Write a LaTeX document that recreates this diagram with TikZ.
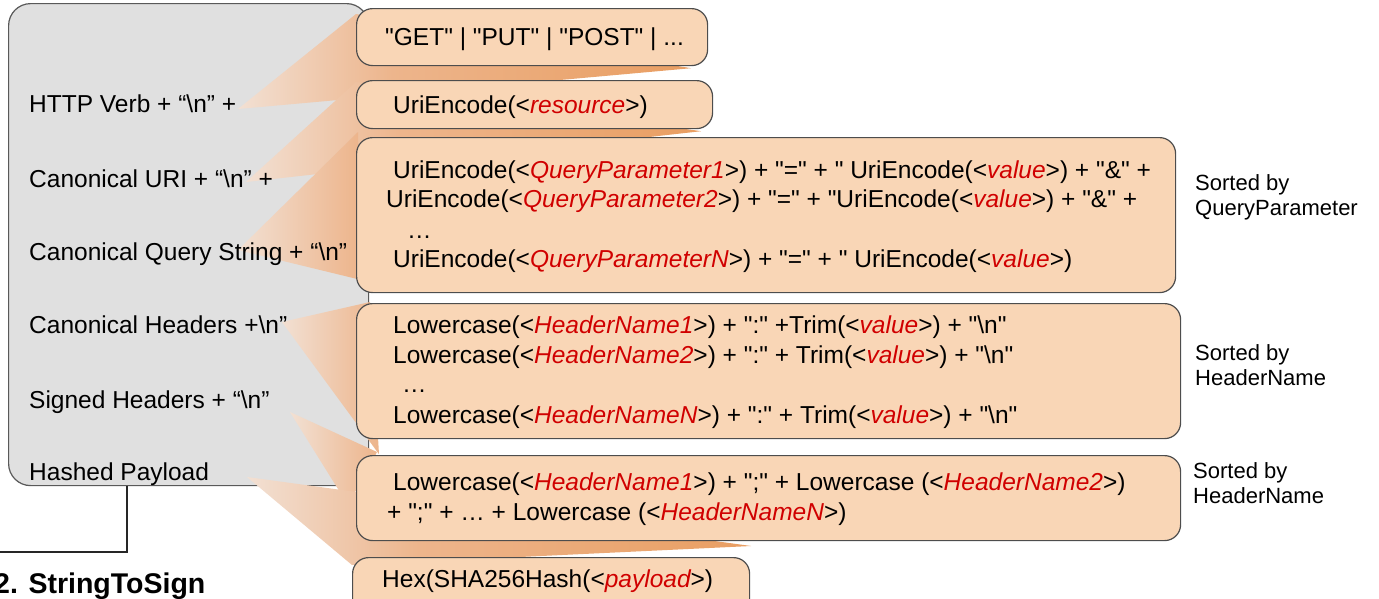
\documentclass[tikz,border=0pt]{standalone}
\usepackage{fontspec}
\setmainfont{Liberation Sans}[Ligatures=TeXOff]
\usepackage{tikz}
\definecolor{panelgray}{HTML}{E0E0E0}
\definecolor{panelline}{HTML}{595959}
\definecolor{peach}{HTML}{F9D6B6}
\definecolor{partline}{HTML}{4D4D4D}
\definecolor{argred}{HTML}{D00000}
\definecolor{calloutlight}{HTML}{F2E0D3}
\definecolor{calloutmid}{HTML}{EDB58C}
\definecolor{calloutdark}{HTML}{E99E62}
\pgfdeclarehorizontalshading{calloutlong}{100bp}{color(0bp)=(calloutlight); color(25bp)=(calloutlight);
 color(42bp)=(calloutmid); color(75bp)=(calloutdark); color(100bp)=(calloutdark)}
\pgfdeclarelayer{panel}
\pgfdeclarelayer{wedge}
\pgfsetlayers{panel,wedge,main}
\newcommand{\param}[1]{{\itshape\color{argred}#1}}
\newcommand{\escn}{\textbackslash n}

\begin{document}
\begin{tikzpicture}[x=1pt,y=-1pt,
 panel/.style={draw=panelline,line width=1.2pt,fill=panelgray,rounded corners=22pt,
 anchor=north west,inner sep=0pt},
 part/.style={draw=partline,line width=1.2pt,fill=peach,rounded corners=16pt,
 anchor=north west,inner sep=0pt},
 lbl/.style={anchor=base west,inner sep=0pt,font=\fontsize{24.5}{28}\selectfont},
 code/.style={anchor=base west,inner sep=0pt,font=\fontsize{24.5}{28}\selectfont},
 note/.style={anchor=base west,inner sep=0pt,align=left,font=\fontsize{22}{25}\selectfont},
 calloutlong/.style={shading=calloutlong},
 calloutshort/.style={left color=calloutlight,right color=calloutmid},
 link/.style={draw=black!85,line width=2.5pt}]
\useasboundingbox (0,0) rectangle (1379,598);
\begin{pgfonlayer}{panel}
\node[panel,minimum width=360pt,minimum height=482pt] (sts) at (8,3) {};
\end{pgfonlayer}
\coordinate (rail) at (0,552);
\draw[link] ([xshift=119pt]sts.south west) |- (rail);
\node[anchor=base west,inner sep=0pt,font=\bfseries\fontsize{28.5}{32}\selectfont] (title) at (-6,593) {2. StringToSign};

% what goes into the string
\node[lbl] (verb) at (29,112) {HTTP Verb + “\escn” +};
\node[lbl] (uri) at (29,187) {Canonical URI + “\escn” +};
\node[lbl] (query) at (29,260) {Canonical Query String + “\escn”};
\node[lbl] (headers) at (29,333) {Canonical Headers +\escn”};
\node[lbl] (signed) at (29,408) {Signed Headers + “\escn”};
\node[lbl] (payload) at (29,480) {Hashed Payload};
\coordinate (verbtip) at (238,109);
\coordinate (uritip) at (246,182);
\coordinate (querytip) at (238,250);
\coordinate (headertip) at (282,322);
\coordinate (signedtip) at (290,412);
\coordinate (payloadtip) at (247,477);

% parts
\node[part,minimum width=351pt,minimum height=57pt] (verbbox) at (356,8) {};
\node[part,minimum width=356pt,minimum height=48pt] (uribox) at (356,80) {};
\node[part,minimum width=819pt,minimum height=155pt] (querybox) at (356,137) {};
\node[part,minimum width=824pt,minimum height=135pt] (headerbox) at (356,303) {};
\node[part,minimum width=824pt,minimum height=85pt] (signedbox) at (356,455) {};
\node[part,minimum width=397pt,minimum height=60pt] (hexbox) at (352,557) {};

\node[code] (verbtxt) at (385,45) {"GET" | "PUT" | "POST" | ...};
\node[code] (uritxt) at (393,113) {UriEncode(<\param{resource}>)};
\node[code] (qone) at (393,178) {UriEncode(<\param{QueryParameter1}>) + "=" + " UriEncode(<\param{value}>) + "\&" +};
\node[code] (qtwo) at (386,207) {UriEncode(<\param{QueryParameter2}>) + "=" + "UriEncode(<\param{value}>) + "\&" +};
\node[code] (qdots) at (407,238) {\ldots};
\node[code] (qn) at (393,267) {UriEncode(<\param{QueryParameterN}>) + "=" + " UriEncode(<\param{value}>)};
\node[code] (hone) at (393,333) {Lowercase(<\param{HeaderName1}>) + ":" +Trim(<\param{value}>) + "\escn"};
\node[code] (htwo) at (393,363) {Lowercase(<\param{HeaderName2}>) + ":" + Trim(<\param{value}>) + "\escn"};
\node[code] (hdots) at (402,392) {\ldots};
\node[code] (hn) at (393,423) {Lowercase(<\param{HeaderNameN}>) + ":" + Trim(<\param{value}>) + "\escn"};
\node[code] (sone) at (393,490) {Lowercase(<\param{HeaderName1}>) + ";" + Lowercase (<\param{HeaderName2}>)};
\node[code] (stwo) at (387,520) {+ ";" + \ldots{} + Lowercase (<\param{HeaderNameN}>)};
\node[code] (hextxt) at (382,587) {Hex(SHA256Hash(<\param{payload}>)};

\node[note] (querynote) at (1195,215) {Sorted by\\QueryParameter};
\node[note] (headernote) at (1195,385) {Sorted by\\HeaderName};
\node[note] (signednote) at (1193,503) {Sorted by\\HeaderName};

% callouts from the labels to the parts
\begin{pgfonlayer}{wedge}
\shade[calloutlong] (verbtip) -- ([yshift=-6pt]verbbox.north west) -- ([xshift=-17pt,yshift=-2pt]verbbox.south east) -- cycle;
\shade[calloutlong] (uritip) -- ([yshift=-2pt]uribox.north west) -- ([xshift=-12pt,yshift=-2pt]uribox.south east) -- cycle;
\shade[calloutshort] (querytip) -- ([xshift=2pt,yshift=5pt]querybox.north west) -- ([xshift=2pt,yshift=14pt]querybox.south west) -- cycle;
\shade[calloutshort] (headertip) -- ([xshift=14pt,yshift=1pt]headerbox.north west) -- ([xshift=23pt,yshift=-15pt]headerbox.south west) -- cycle;
\shade[calloutshort] (signedtip) -- ([xshift=21pt,yshift=3pt]signedbox.north west) -- ([xshift=-8pt,yshift=-7pt]signedbox.west) -- cycle;
\shade[calloutlong] (payloadtip) -- ([yshift=-8pt]hexbox.north west) -- ([xshift=1pt,yshift=11pt]hexbox.north east) -- cycle;
\end{pgfonlayer}
\end{tikzpicture}
\end{document}
